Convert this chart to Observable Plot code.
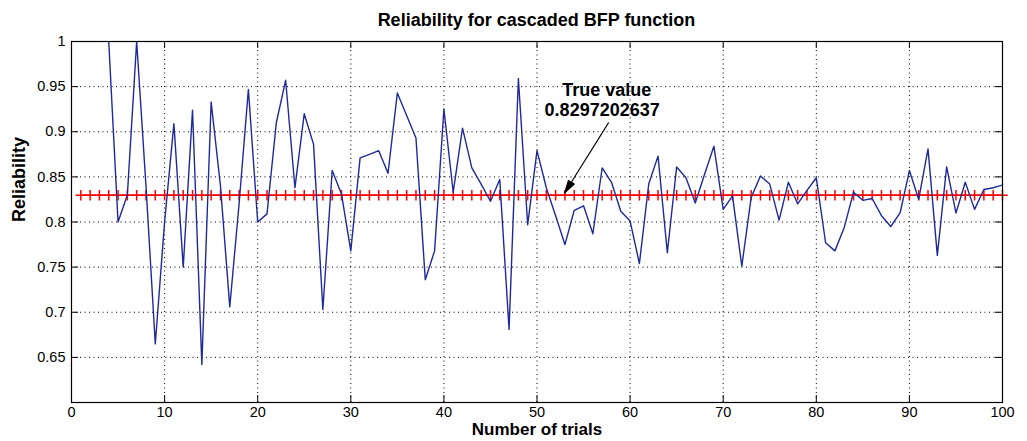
<!DOCTYPE html>
<html><head><meta charset="utf-8">
<script src="https://cdn.jsdelivr.net/npm/d3@7"></script>
<script src="https://cdn.jsdelivr.net/npm/@observablehq/plot@0.6"></script>
<style>
body{margin:0;background:#fff;font-family:"Liberation Sans",Arial,sans-serif;}
#title{height:26px;line-height:40px;padding-left:71px;width:931px;text-align:center;font-weight:bold;font-size:18px;color:#000;white-space:nowrap;overflow:visible;}
#chart svg{overflow:visible;}
</style></head><body>
<div id="title">Reliability for cascaded BFP function</div>
<div id="chart"></div>
<script>
const trials = [4,5,6,7,8,9,10,11,12,13,14,15,16,17,18,19,20,21,22,23,24,25,26,27,28,29,30,31,32,33,34,35,36,37,38,39,40,41,42,43,44,45,46,47,48,49,50,51,52,53,54,55,56,57,58,59,60,61,62,63,64,65,66,67,68,69,70,71,72,73,74,75,76,77,78,79,80,81,82,83,84,85,86,87,88,89,90,91,92,93,94,95,96,97,98,99,100];
const reliability = [1.0,0.80,0.83,1.0,0.84,0.665,0.80,0.909,0.75,0.924,0.642,0.933,0.84,0.706,0.82,0.947,0.80,0.809,0.91,0.957,0.838,0.92,0.886,0.703,0.857,0.831,0.768,0.871,0.875,0.879,0.854,0.943,0.918,0.893,0.736,0.768,0.925,0.833,0.904,0.860,0.842,0.823,0.847,0.681,0.959,0.797,0.879,0.838,0.807,0.775,0.813,0.818,0.787,0.860,0.844,0.812,0.801,0.754,0.842,0.873,0.766,0.861,0.849,0.821,0.853,0.884,0.814,0.829,0.751,0.827,0.851,0.842,0.802,0.844,0.820,0.835,0.849,0.777,0.768,0.794,0.833,0.824,0.826,0.807,0.795,0.810,0.857,0.825,0.881,0.763,0.861,0.810,0.844,0.814,0.836,0.838,0.841];
const trueValue = 0.8297202637;
const markerTrials = [1,2,3,4,5,6,7,8,9,10,11,12,13,14,15,16,17,18,19,20,21,22,23,24,25,26,27,28,29,30,31,32,33,34,35,36,37,38,39,40,41,42,43,44,45,46,47,48,49,50,51,52,53,54,55,56,57,58,59,60,61,62,63,64,65,66,67,68,69,70,71,72,73,74,75,76,77,78,79,80,81,82,83,84,85,86,87,88,89,90,91,92,93,94,95,96,97,98,99,100];
const xTicks = [0,10,20,30,40,50,60,70,80,90,100];
const yTicks = [0.65,0.7,0.75,0.8,0.85,0.9,0.95,1];
const xLabel = "Number of trials";
const yLabel = "Reliability";
const annotationText = ["True value", "0.8297202637"];
const annotationX = [57.5, 57.0];
const annotationY = [0.9456, 0.9233];
const arrowFrom = {x: 57.7, y: 0.9103};
const arrowTo = {x: 52.95, y: 0.8319};

const trueRows = markerTrials.map(t => ({t, v: trueValue}));
const annRows = annotationText.map((s, i) => ({s, x: annotationX[i], y: annotationY[i]}));

const chart = Plot.plot({
  width: 1027,
  height: 415,
  marginTop: 15,
  marginBottom: 39,
  marginLeft: 71,
  marginRight: 25,
  style: {fontFamily: "'Liberation Sans', Arial, sans-serif", fontSize: "14px", color: "#000", background: "#fff", overflow: "visible"},
  x: {domain: [0, 100]},
  y: {domain: [0.6, 1]},
  marks: [
    Plot.gridX(xTicks, {stroke: "#000", strokeOpacity: 1, strokeDasharray: "1,3.5", strokeWidth: 1}),
    Plot.gridY(yTicks, {stroke: "#000", strokeOpacity: 1, strokeDasharray: "1,3.5", strokeWidth: 1}),
    Plot.tickX(xTicks, {x: d => d, insetTop: 354, stroke: "#000"}),
    Plot.tickX(xTicks, {x: d => d, insetBottom: 354, stroke: "#000"}),
    Plot.tickY(yTicks, {y: d => d, insetRight: 924, stroke: "#000"}),
    Plot.tickY(yTicks, {y: d => d, insetLeft: 924, stroke: "#000"}),
    Plot.axisX({ticks: xTicks, tickSize: 0, tickPadding: 4, fontSize: 14.5}),
    Plot.axisY({ticks: yTicks, tickSize: 0, tickPadding: 6, fontSize: 14.5, tickFormat: d => String(+d.toFixed(2))}),
    Plot.line(trueRows, {x: "t", y: "v", stroke: "#ff0000", strokeWidth: 1.5}),
    Plot.dot(trueRows, {x: "t", y: "v", symbol: "plus", r: 3.5, stroke: "#ff0000", strokeWidth: 1.5}),
    Plot.lineY(reliability, {x: trials, stroke: "#1f2a9a", strokeWidth: 1.4, clip: true}),
    Plot.link([arrowFrom], {x1: "x", y1: "y", x2: () => arrowTo.x, y2: () => arrowTo.y, stroke: "#000", strokeWidth: 1.2}),
    Plot.vector([arrowTo], {x: "x", y: "y", rotate: 212, length: 13, anchor: "end", fill: "#000", stroke: "#000", strokeWidth: 1,
      shape: {draw(ctx, l) { ctx.moveTo(0, -l); ctx.lineTo(-3.5, 0); ctx.lineTo(3.5, 0); ctx.closePath(); }}}),
    Plot.text(annRows, {x: "x", y: "y", text: "s", fontSize: 18, fontWeight: "bold", fill: "#000"}),
    Plot.text([xLabel], {frameAnchor: "bottom", text: d => d, dy: 32, fontSize: 17, fontWeight: "bold"}),
    Plot.text([yLabel], {frameAnchor: "left", text: d => d, rotate: -90, dx: -52, fontSize: 18, fontWeight: "bold"}),
    Plot.frame({stroke: "#000", strokeWidth: 1.2})
  ]
});
document.getElementById("chart").appendChild(chart);
</script>
</body></html>
